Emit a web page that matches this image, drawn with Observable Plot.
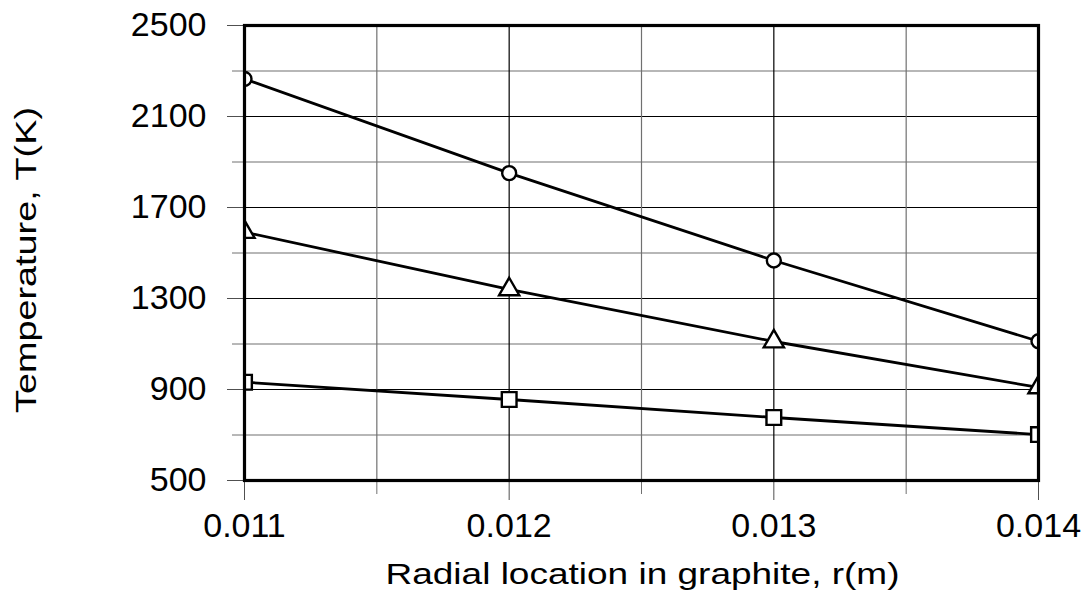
<!DOCTYPE html>
<html>
<head>
<meta charset="utf-8">
<script src="https://cdn.jsdelivr.net/npm/d3@7"></script>
<script src="https://cdn.jsdelivr.net/npm/@observablehq/plot@0.6"></script>
<style>
  html, body { margin: 0; padding: 0; background: white; }
</style>
</head>
<body>
<div id="chart"></div>
<script>
// ---- data ----
const radius = [0.011, 0.012, 0.013, 0.014];
const tCircle = [2265, 1851, 1467, 1112];
const tTriangle = [1592, 1340, 1111, 909];
const tSquare = [932, 856, 777, 702];

const yMajorTicks = [500, 900, 1300, 1700, 2100, 2500];
const yMinorTicks = [700, 1100, 1500, 1900, 2300];
const xMajorTicks = [0.011, 0.012, 0.013, 0.014];
const xMinorTicks = [0.0115, 0.0125, 0.0135];

const xTitle = "Radial location in graphite, r(m)";
const yTitle = "Temperature, T(K)";

const series = [
  {name: "circle", values: tCircle},
  {name: "triangle", values: tTriangle},
  {name: "square", values: tSquare}
];
const rows = series.flatMap(s => radius.map((r, i) => ({series: s.name, r, T: s.values[i]})));
const symbolSize = {circle: 7, triangle: 7.5, square: 8.3};

const innerMajorY = yMajorTicks.filter(v => v !== 500 && v !== 2500);
const innerMajorX = xMajorTicks.filter(v => v !== 0.011 && v !== 0.014);

const dotMarks = series.map(s => Plot.dot(rows.filter(d => d.series === s.name), {
  x: "r", y: "T", symbol: () => s.name, r: symbolSize[s.name],
  stroke: "black", strokeWidth: 2.4, fill: "white", clip: true
}));

const chart = Plot.plot({
  width: 1086,
  height: 604,
  marginTop: 25,
  marginRight: 48,
  marginBottom: 124,
  marginLeft: 244,
  x: {domain: [0.011, 0.014]},
  y: {domain: [500, 2500]},
  symbol: {type: "identity"},
  style: {fontFamily: "'Liberation Sans', Arial, sans-serif", fontSize: "34px", background: "white", color: "black", overflow: "visible"},
  marks: [
    Plot.gridY(yMinorTicks, {stroke: "#707070", strokeOpacity: 1, strokeWidth: 1.2}),
    Plot.gridY(innerMajorY, {stroke: "black", strokeOpacity: 1, strokeWidth: 1.2}),
    Plot.gridX(xMinorTicks, {stroke: "#707070", strokeOpacity: 1, strokeWidth: 1.2}),
    Plot.gridX(innerMajorX, {stroke: "black", strokeOpacity: 1, strokeWidth: 1.2}),
    Plot.axisY(yMajorTicks, {tickSize: 17, tickPadding: 21, tickFormat: d => String(d), label: null, stroke: "#505050", fontSize: 34}),
    Plot.axisY(yMinorTicks, {tickSize: 12, tickFormat: () => "", label: null, stroke: "#707070"}),
    Plot.axisX(xMajorTicks, {tickSize: 20, tickPadding: 12, tickFormat: d3.format(".3f"), label: null, stroke: "#505050", fontSize: 34}),
    Plot.axisX(xMinorTicks, {tickSize: 14, tickFormat: () => "", label: null, stroke: "#707070"}),
    Plot.line(rows, {x: "r", y: "T", z: "series", stroke: "black", strokeWidth: 2.8}),
    ...dotMarks,
    Plot.frame({stroke: "black", strokeWidth: 3.2}),
    Plot.text([xTitle], {text: d => d, frameAnchor: "bottom", textAnchor: "middle", dx: 1, dy: 103, fontSize: 30}),
    Plot.text([yTitle], {text: d => d, frameAnchor: "left", textAnchor: "middle", rotate: -90, dx: -218, dy: 7, fontSize: 30})
  ]
});

d3.select(chart).selectAll("text").each(function () {
  const t = this.textContent;
  if (t === xTitle) d3.select(this).attr("textLength", 514).attr("lengthAdjust", "spacingAndGlyphs");
  if (t === yTitle) d3.select(this).attr("textLength", 306).attr("lengthAdjust", "spacingAndGlyphs");
});

document.getElementById("chart").appendChild(chart);
</script>
</body>
</html>
